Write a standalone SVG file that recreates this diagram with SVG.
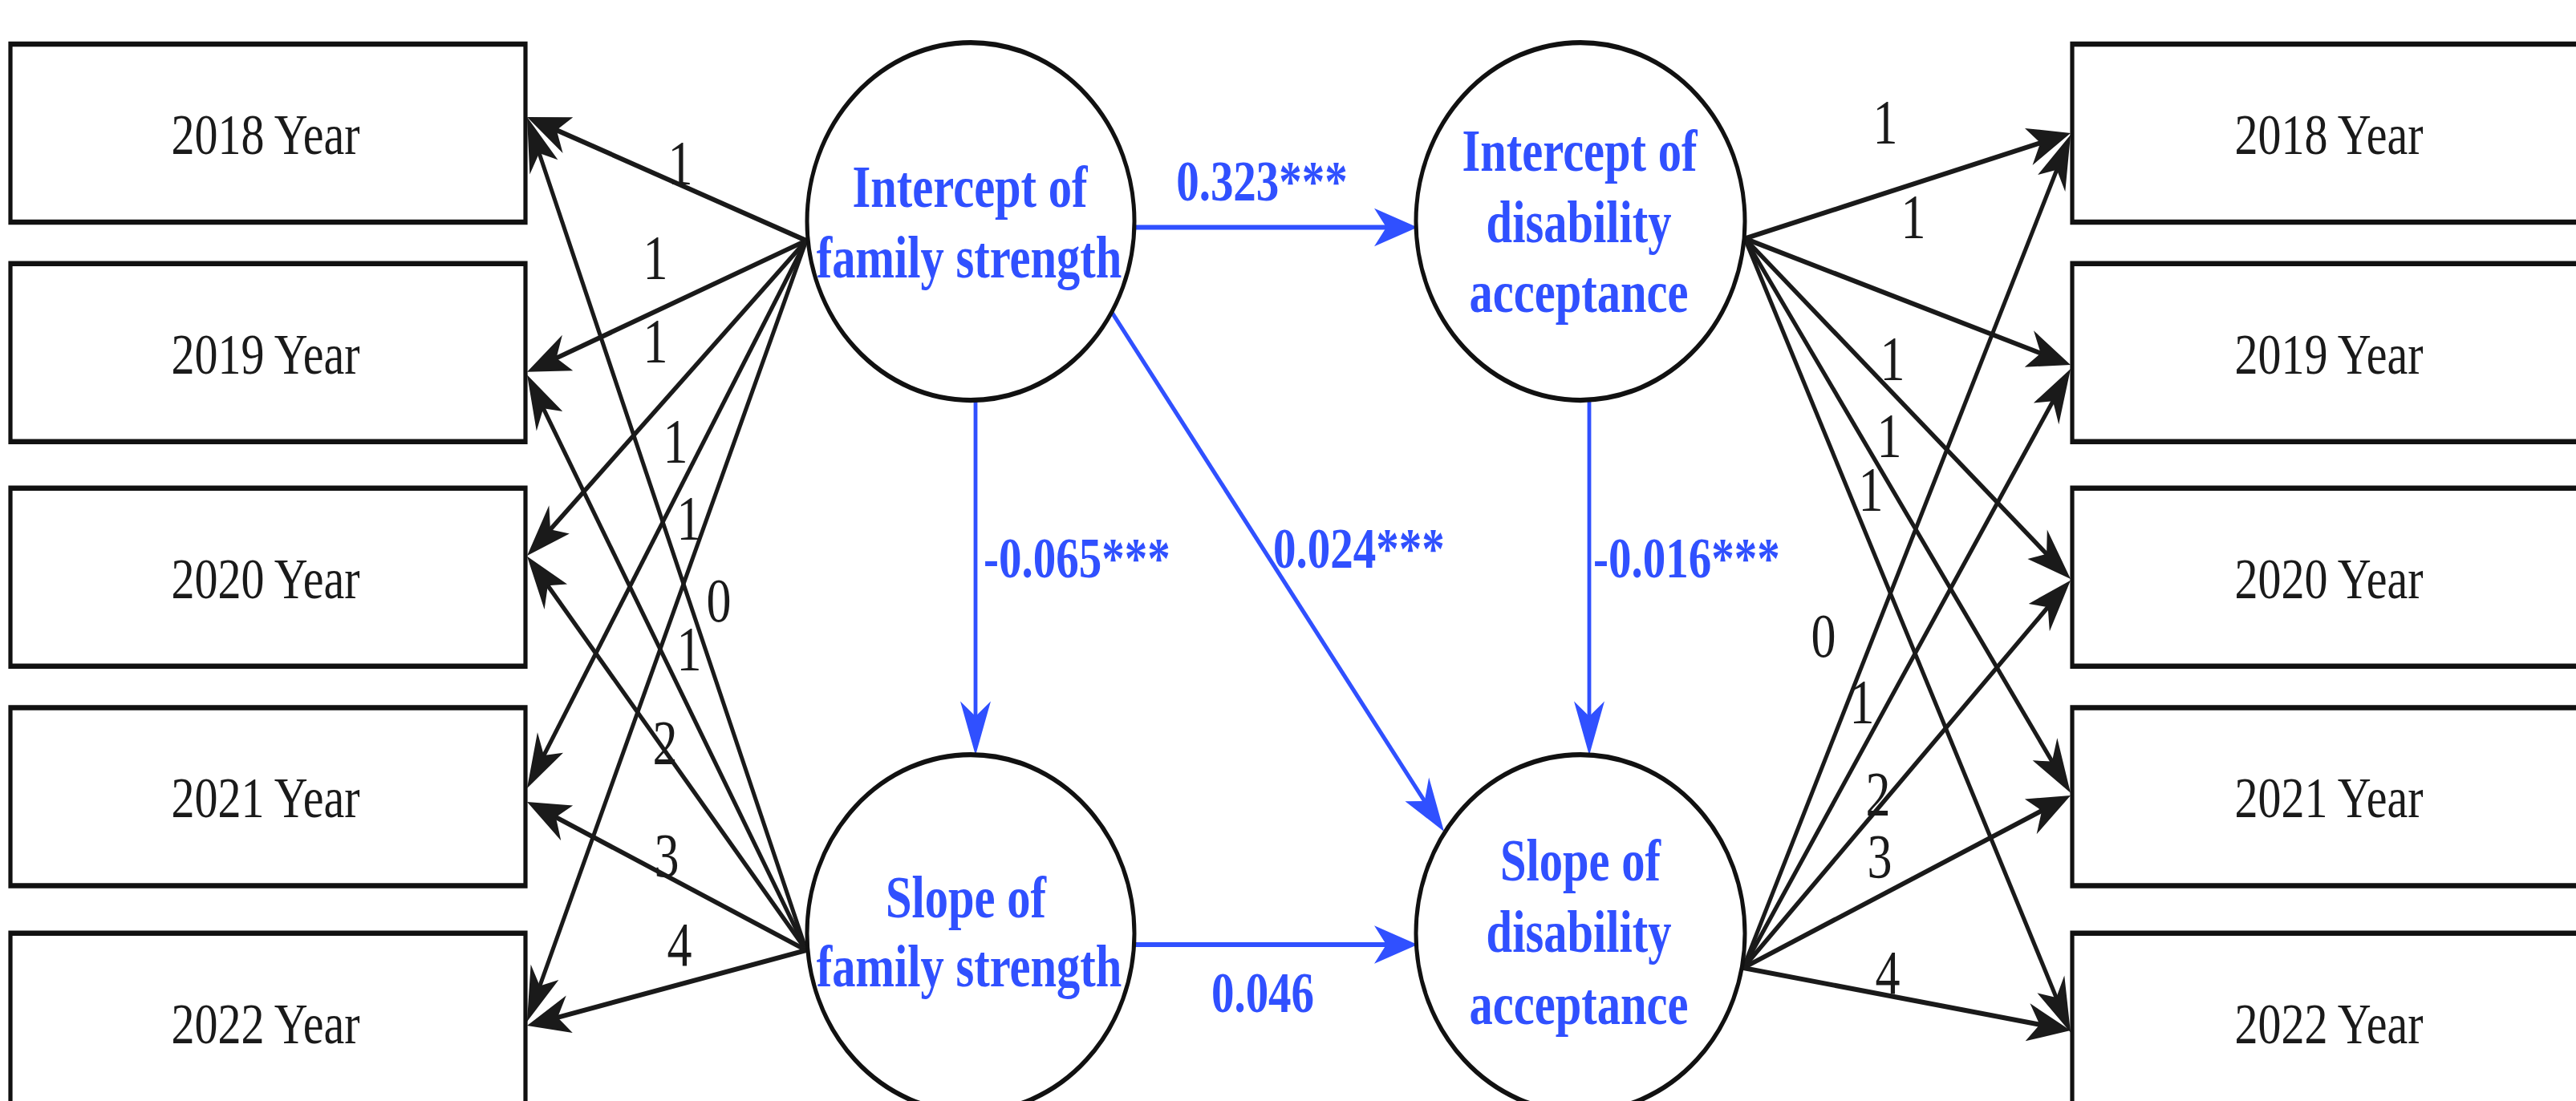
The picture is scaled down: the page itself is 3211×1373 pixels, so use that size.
<svg xmlns="http://www.w3.org/2000/svg" width="3211" height="1373" viewBox="0 0 3211 1373">
<defs>
<style>
.box{fill:#fff;stroke:#111;stroke-width:5.2}
.circ{fill:#fff;stroke:#111;stroke-width:5}
.bt{font-family:"Liberation Serif","Times New Roman",serif;font-size:58px;fill:#1a1a1a;text-anchor:middle}
.ct{font-family:"Liberation Serif","Times New Roman",serif;font-size:58.5px;font-weight:bold;fill:#3050ff;text-anchor:middle}
.bl{font-family:"Liberation Serif","Times New Roman",serif;font-size:57px;font-weight:bold;fill:#3050ff}
.nl{font-family:"Liberation Serif","Times New Roman",serif;font-size:62px;fill:#1a1a1a;text-anchor:middle}
.k{stroke:#1a1a1a;stroke-width:4.9;fill:none;marker-end:url(#ak)}
.b{stroke:#3050ff;stroke-width:4.8;fill:none;marker-end:url(#ab)}
</style>
<marker id="ak" viewBox="-26 -21 58 42" markerWidth="58" markerHeight="42" refX="0" refY="0" orient="auto" markerUnits="userSpaceOnUse">
<path d="M30,0 L-24,-19 L-9,0 L-24,19 Z" fill="#1a1a1a"/>
</marker>
<marker id="ab" viewBox="-26 -21 58 42" markerWidth="58" markerHeight="42" refX="0" refY="0" orient="auto" markerUnits="userSpaceOnUse">
<path d="M30,0 L-24,-19 L-9,0 L-24,19 Z" fill="#3050ff"/>
</marker>
</defs>
<rect x="0" y="0" width="3211" height="1373" fill="#fff"/>
<g transform="scale(1,1.25)">
<g id="connectors">
<line class="k" x1="1005" y1="240" x2="685.3" y2="126.8"/>
<line class="k" x1="1005" y1="240" x2="685.1" y2="360.4"/>
<line class="k" x1="1005" y1="240" x2="679.3" y2="534.3"/>
<line class="k" x1="1005" y1="240" x2="673.1" y2="761.1"/>
<line class="k" x1="1005" y1="240" x2="669.2" y2="991.8"/>
<line class="k" x1="1005" y1="948" x2="668.6" y2="144.5"/>
<line class="k" x1="1005" y1="948" x2="672.6" y2="399.7"/>
<line class="k" x1="1005" y1="948" x2="676.9" y2="577.5"/>
<line class="k" x1="1005" y1="948" x2="684.6" y2="811.7"/>
<line class="k" x1="1005" y1="948" x2="686.3" y2="1016.9"/>
<line class="k" x1="2175" y1="238" x2="2552.0" y2="140.3"/>
<line class="k" x1="2175" y1="238" x2="2552.3" y2="355.1"/>
<line class="k" x1="2175" y1="238" x2="2558.0" y2="558.4"/>
<line class="k" x1="2175" y1="238" x2="2563.2" y2="766.8"/>
<line class="k" x1="2175" y1="238" x2="2567.3" y2="1003.3"/>
<line class="k" x1="2173" y1="965.6" x2="2567.8" y2="161.3"/>
<line class="k" x1="2173" y1="965.6" x2="2564.1" y2="392.8"/>
<line class="k" x1="2173" y1="965.6" x2="2559.2" y2="599.6"/>
<line class="k" x1="2173" y1="965.6" x2="2553.4" y2="805.3"/>
<line class="k" x1="2173" y1="965.6" x2="2551.3" y2="1023.5"/>
<line class="b" x1="1414" y1="226.8" x2="1737" y2="226.8"/>
<line class="b" x1="1414" y1="942.4" x2="1737" y2="942.4"/>
<line class="b" x1="1216" y1="399" x2="1216" y2="723.6"/>
<line class="b" x1="1981" y1="399" x2="1981" y2="723.6"/>
<line class="b" x1="1385" y1="310.4" x2="1781.3" y2="806.2"/>
<text class="bl" x="1573" y="200" text-anchor="middle">0.323***</text>
<text class="bl" x="1226" y="576">-0.065***</text>
<text class="bl" x="1587" y="566.4">0.024***</text>
<text class="bl" x="1986" y="576">-0.016***</text>
<text class="bl" x="1574" y="1010" text-anchor="middle">0.046</text>
<text class="nl" x="848" y="183.2">1</text>
<text class="nl" x="817" y="277.6">1</text>
<text class="nl" x="817" y="360.8">1</text>
<text class="nl" x="842" y="460.8">1</text>
<text class="nl" x="859" y="537.6">1</text>
<text class="nl" x="896" y="620">0</text>
<text class="nl" x="859" y="668">1</text>
<text class="nl" x="829" y="761.6">2</text>
<text class="nl" x="831" y="874.4">3</text>
<text class="nl" x="847" y="963.2">4</text>
<text class="nl" x="2350" y="142.4">1</text>
<text class="nl" x="2385" y="236.8">1</text>
<text class="nl" x="2359" y="378.4">1</text>
<text class="nl" x="2355" y="455.2">1</text>
<text class="nl" x="2332" y="508.8">1</text>
<text class="nl" x="2273" y="655.2">0</text>
<text class="nl" x="2321" y="720.8">1</text>
<text class="nl" x="2341" y="813">2</text>
<text class="nl" x="2343" y="875.5">3</text>
<text class="nl" x="2353" y="991.2">4</text>
</g>
<g id="L2018"><rect class="box" x="13" y="44" width="642" height="177.6"/><text class="bt" x="331" y="153.6">2018 Year</text></g>
<g id="L2019"><rect class="box" x="13" y="263" width="642" height="177.6"/><text class="bt" x="331" y="372.6">2019 Year</text></g>
<g id="L2020"><rect class="box" x="13" y="487" width="642" height="177.6"/><text class="bt" x="331" y="596.6">2020 Year</text></g>
<g id="L2021"><rect class="box" x="13" y="706" width="642" height="177.6"/><text class="bt" x="331" y="815.6">2021 Year</text></g>
<g id="L2022"><rect class="box" x="13" y="931" width="642" height="177.6"/><text class="bt" x="331" y="1040.6">2022 Year</text></g>
<g id="R2018"><rect class="box" x="2583" y="44" width="642" height="177.6"/><text class="bt" x="2903" y="153.6">2018 Year</text></g>
<g id="R2019"><rect class="box" x="2583" y="263" width="642" height="177.6"/><text class="bt" x="2903" y="372.6">2019 Year</text></g>
<g id="R2020"><rect class="box" x="2583" y="487" width="642" height="177.6"/><text class="bt" x="2903" y="596.6">2020 Year</text></g>
<g id="R2021"><rect class="box" x="2583" y="706" width="642" height="177.6"/><text class="bt" x="2903" y="815.6">2021 Year</text></g>
<g id="R2022"><rect class="box" x="2583" y="931" width="642" height="177.6"/><text class="bt" x="2903" y="1040.6">2022 Year</text></g>
<g id="IFS"><ellipse class="circ" cx="1210" cy="220.8" rx="204" ry="178.4"/><text class="ct" x="1209" y="206.4">Intercept of</text><text class="ct" x="1208" y="276.8">family strength</text></g>
<g id="IDA"><ellipse class="circ" cx="1970" cy="220.8" rx="205" ry="178.4"/><text class="ct" x="1969" y="170.4">Intercept of</text><text class="ct" x="1968" y="241.6">disability</text><text class="ct" x="1968" y="311.2">acceptance</text></g>
<g id="SFS"><ellipse class="circ" cx="1210" cy="931.2" rx="204" ry="178.4"/><text class="ct" x="1204" y="915.2">Slope of</text><text class="ct" x="1208" y="984">family strength</text></g>
<g id="SDA"><ellipse class="circ" cx="1970" cy="931.2" rx="205" ry="178.4"/><text class="ct" x="1970" y="878.4">Slope of</text><text class="ct" x="1968" y="949.6">disability</text><text class="ct" x="1968" y="1021.6">acceptance</text></g>
</g>
</svg>
